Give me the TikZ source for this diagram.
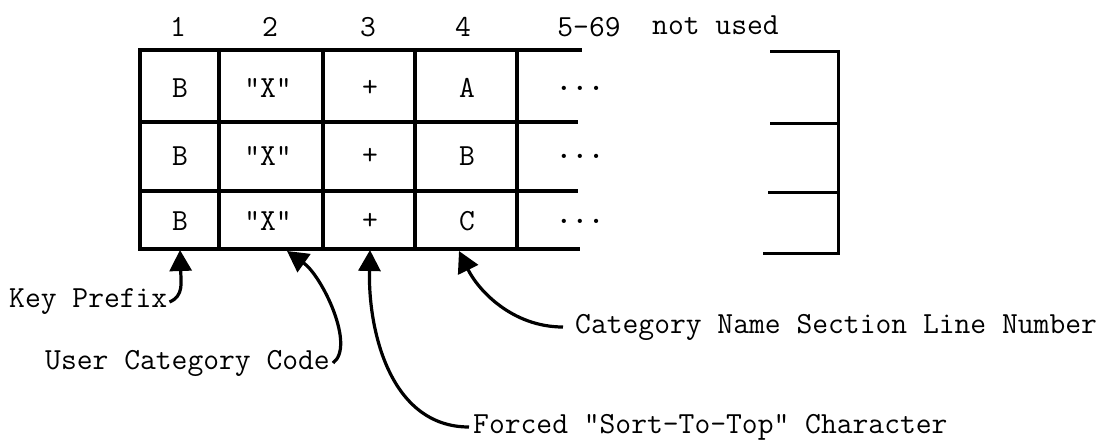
\documentclass[tikz,border=0pt]{standalone}
\usetikzlibrary{arrows.meta}
\tikzset{
  txt/.style={inner sep=0pt, font=\ttfamily\fontsize{30.7}{34}\selectfont},
  grid/.style={line width=3.4pt, line cap=rect},
  brk/.style={line width=3pt},
  arr/.style={line width=3.2pt, -{Triangle[length=21pt,width=22pt]}},
}
\begin{document}
\begin{tikzpicture}[x=1pt,y=-1pt]
\useasboundingbox (0,0) rectangle (1112,440);
% table
\draw[grid] (140,50) -- (580,50);
\draw[grid] (140,122) -- (576,122);
\draw[grid] (140,191) -- (576,191);
\draw[grid] (140,249) -- (578,249);
\foreach \x in {140,219,323,415,517} \draw[grid] (\x,50) -- (\x,249);
% right bracket
\draw[brk] (770,51) -- (838,51) -- (838,253) -- (763,253);
\draw[brk] (770,123) -- (838,123);
\draw[brk] (768,192) -- (838,192);
% headers
\node[txt] (h1) at (178,27) {1};
\node[txt] (h2) at (270,27) {2};
\node[txt] (h3) at (368,27) {3};
\node[txt] (h4) at (463,27) {4};
\node[txt] (h5) at (589,27) {5-69};
\node[txt,anchor=west] (nu) at (652,25) {not used};
% cells
\foreach \r/\y/\l in {1/88/A,2/156/B,3/221/C}{
  \node[txt] (b\r) at (180,\y) {B};
  \node[txt] (x\r) at (268,\y) {"X"};
  \node[txt] (p\r) at (370,\y) {+};
  \node[txt] (l\r) at (467,\y) {\l};
  \node[txt] (d\r) at (580,\y) {\bfseries...};
}
% labels
\node[txt,anchor=west] (kp) at (9,302) {Key Prefix};
\node[txt,anchor=east] (uc) at (330,363) {User Category Code};
\node[txt,anchor=west] (fc) at (473,427) {Forced "Sort-To-Top" Character};
\node[txt,anchor=west] (cn) at (575,327) {Category Name Section Line Number};
% arrow tips
\coordinate (t1) at (180,250);
\coordinate (t2) at (287,251);
\coordinate (t3) at (370,250);
\coordinate (t4) at (459,251);
\draw[arr] ([xshift=2pt]kp.east) .. controls (184,296) and (181,282) .. (t1);
\draw[arr] ([xshift=3pt]uc.east) .. controls (356,346) and (322,276) .. (t2);
\draw[arr] ([xshift=-4pt]fc.west) .. controls (390,427) and (368,330) .. (t3);
\draw[arr] ([xshift=-12pt]cn.west) .. controls (512,327) and (478,290) .. (t4);
\end{tikzpicture}
\end{document}
